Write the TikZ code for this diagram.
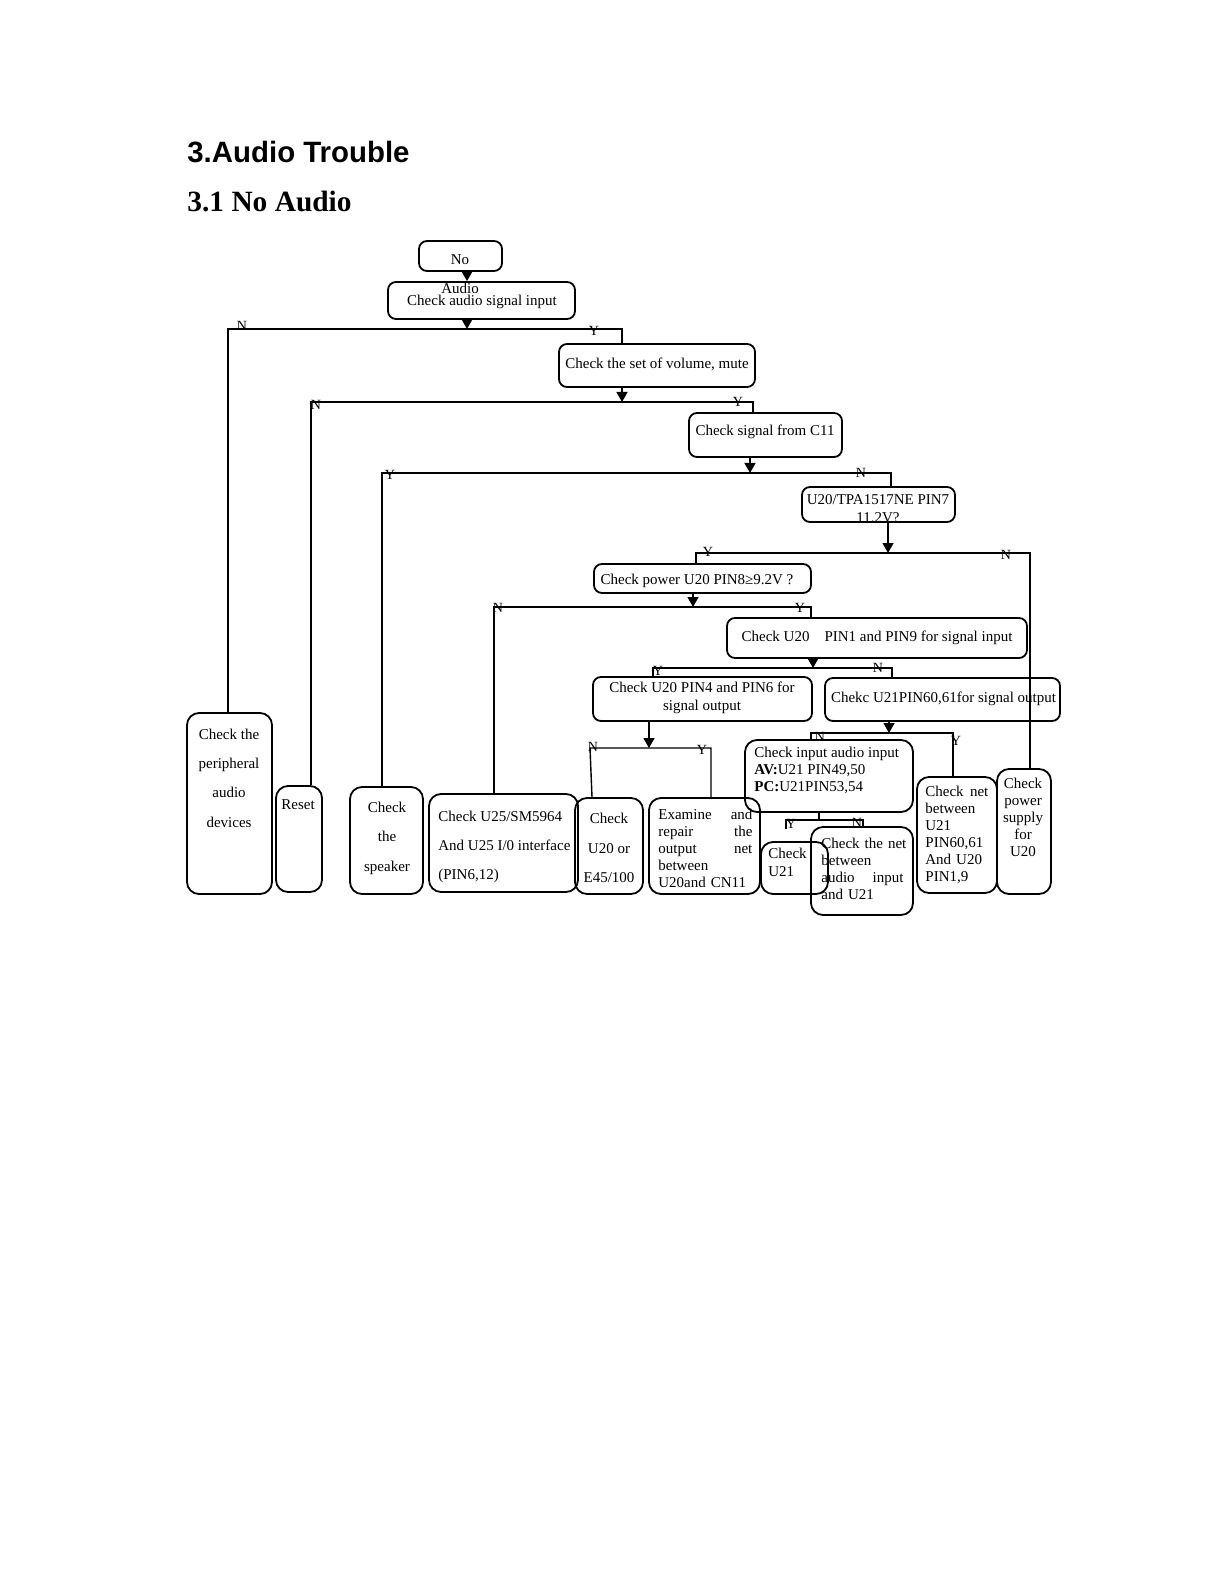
\documentclass[tikz,border=0pt]{standalone}
\usepackage{fontspec}
\setmainfont{Liberation Serif}
\newfontfamily\headsans{Liberation Sans}
\usetikzlibrary{arrows.meta,fit}
\begin{document}
\begin{tikzpicture}[x=0.5pt,y=-0.5pt,
  box/.style={draw,rounded corners=4pt,line width=0.9pt,inner sep=0pt},
  tallbox/.style={box,rounded corners=6pt},
  conn/.style={line width=0.7pt},
  arr/.style={conn,-{Triangle[width=5.5pt,length=5pt]}},
  txt/.style={inner sep=0pt,font=\fontsize{7.5}{8.5}\selectfont},
  dbl/.style={inner sep=0pt,font=\fontsize{7.5}{14.7}\selectfont,align=center},
  lbl/.style={inner sep=0pt,font=\fontsize{7}{8}\selectfont}]
\useasboundingbox (0,0) rectangle (1219,1582);

% headings
\node[anchor=base west,inner sep=0pt,font=\headsans\bfseries\fontsize{14.7}{17}\selectfont] (title) at (187,163) {3.Audio Trouble};
\node[anchor=base west,inner sep=0pt,font=\bfseries\fontsize{14.7}{17}\selectfont] (sub) at (187,212) {3.1 No Audio};

% boxes
\node[box,fit={(419,241)(502,271)}] (no) {};
\node[box,fit={(388,282)(575,319)}] (aud) {};
\node[box,fit={(559,344)(755,387)}] (vol) {};
\node[box,fit={(689,413)(842,457)}] (c11) {};
\node[box,fit={(802,487)(955,522)}] (tpa) {};
\node[box,fit={(594,564)(811,593)}] (pwr) {};
\node[box,fit={(727,618)(1027,658)}] (pin1) {};
\node[box,fit={(593,677)(812,721)}] (pin4) {};
\node[box,fit={(825,678)(1060,721)}] (chekc) {};
\node[tallbox,fit={(187,713)(272,894)}] (periph) {};
\node[tallbox,fit={(276,786)(322,892)}] (reset) {};
\node[tallbox,fit={(350,787)(423,894)}] (spk) {};
\node[tallbox,fit={(429,794)(578,892)}] (u25) {};
\node[tallbox,fit={(575,798)(643,894)}] (u20or) {};
\node[tallbox,fit={(649,798)(760,894)}] (exam) {};
\node[tallbox,fit={(745,740)(913,812)}] (inp) {};
\node[tallbox,fit={(761,842)(828,894)}] (cu21) {};
\node[tallbox,fit={(811,827)(913,915)}] (cnet) {};
\node[tallbox,fit={(917,777)(997,893)}] (netb) {};
\node[tallbox,fit={(997,769)(1051,894)}] (psup) {};

% texts
\node[dbl,font=\fontsize{7.5}{14.5}\selectfont] (t-no) at (460,274.5) {No\\Audio};
\node[txt] (t-aud) at (482,302) {Check audio signal input};
\node[txt] (t-vol) at (657,364) {Check the set of volume, mute};
\node[txt] (t-c11) at (765,432) {Check signal from C11};
\begin{scope}
\clip (tpa.south west) rectangle (tpa.north east);
\node[txt,align=center,font=\fontsize{7.5}{9}\selectfont] (t-tpa) at (878,509) {U20/TPA1517NE PIN7\\11.2V?};
\end{scope}
\node[txt] (t-pwr) at (697,581) {Check power U20 PIN8≥9.2V ?};
\node[txt] (t-pin1) at (877,638) {Check U20\hspace{7.5pt}PIN1 and PIN9 for signal input};
\node[txt,align=center,font=\fontsize{7.5}{9}\selectfont] (t-pin4) at (702,698) {Check U20 PIN4 and PIN6 for\\signal output};
\node[txt] (t-chekc) at (943.5,698.5) {Chekc U21PIN60,61for signal output};
\node[dbl,font=\fontsize{7.5}{14.65}\selectfont] (t-per) at (229,778) {Check the\\peripheral\\audio\\devices};
\node[txt] (t-reset) at (298,805) {Reset};
\node[dbl,font=\fontsize{7.5}{14.75}\selectfont] (t-spk) at (387,838) {Check\\the\\speaker};
\node[dbl,align=left,font=\fontsize{7.5}{14.5}\selectfont,anchor=west] (t-u25) at (438,846.5) {Check U25/SM5964\\And U25 I/0 interface\\(PIN6,12)};
\node[dbl,font=\fontsize{7.5}{14.75}\selectfont] (t-u20or) at (609,848) {Check\\U20 or\\E45/100};
\node[txt,anchor=west,align=left,text width=47pt] (t-exam) at (658,848) {Examine\hfill and\\repair\hfill the\\output\hfill net\\between\\U20and CN11};
\node[txt,anchor=west,align=left] (t-inp) at (754,770) {Check input audio input\\\textbf{AV:}U21 PIN49,50\\\textbf{PC:}U21PIN53,54};
\node[txt,anchor=west,align=left,font=\fontsize{7.5}{9}\selectfont] (t-cu21) at (768,862.5) {Check\\U21};
\node[txt,anchor=west,align=left,text width=41pt] (t-cnet) at (821,869) {\mbox{Check the net}\\between\\audio\hfill input\\and U21};
\node[txt,anchor=west,align=left,text width=31.5pt] (t-netb) at (925,835) {Check\hfill net\\between\\U21\\PIN60,61\\And U20\\PIN1,9};
\node[txt,align=center] (t-psup) at (1023,817.5) {Check\\power\\supply\\for\\U20};

% junction coordinates
\coordinate (j1) at (467,329);
\coordinate (j2) at (622,402);
\coordinate (j3) at (750,473);
\coordinate (j4) at (888,553);
\coordinate (j5) at (693,607);
\coordinate (j6) at (813,668);
\coordinate (j7) at (649,748);
\coordinate (j8) at (889,733);
\coordinate (j9) at (819,820);
% column coordinates
\coordinate (x228) at (228,0);
\coordinate (x311) at (311,0);
\coordinate (x382) at (382,0);
\coordinate (x494) at (494,0);
\coordinate (x590) at (590,0);
\coordinate (x592) at (592,0);
\coordinate (x653) at (653,0);
\coordinate (x696) at (696,0);
\coordinate (x711) at (711,0);
\coordinate (x753) at (753,0);
\coordinate (x811) at (811,0);
\coordinate (x891) at (891,0);
\coordinate (x892) at (892,0);
\coordinate (x953) at (953,0);
\coordinate (x1030) at (1030,0);
\coordinate (e9l) at (786,829);
\coordinate (x863) at (863,0);

% connectors
\draw[arr] (no.south -| j1) -- (aud.north -| j1);
\draw[arr] (aud.south -| j1) -- (j1);
\draw[conn] (periph.north -| x228) |- (j1) -| (vol.north -| j2);

\draw[arr] (vol.south -| j2) -- (j2);
\draw[conn] (reset.north -| x311) |- (j2) -| (c11.north -| x753);

\draw[arr] (c11.south -| j3) -- (j3);
\draw[conn] (spk.north -| x382) |- (j3) -| (tpa.north -| x891);

\draw[arr] (tpa.south -| j4) -- (j4);
\draw[conn] (pwr.north -| x696) |- (j4) -| (psup.north -| x1030);

\draw[arr] (pwr.south -| j5) -- (j5);
\draw[conn] (u25.north -| x494) |- (j5) -| (pin1.north -| x811);

\draw[arr] (pin1.south -| j6) -- (j6);
\draw[conn] (pin4.north -| x653) |- (j6) -| (chekc.north -| x892);

\draw[arr] (pin4.south -| j7) -- (j7);
\draw[conn] (u20or.north -| x592) -- (x590 |- j7) -- (j7) -| (exam.north -| x711);

\draw[arr] (chekc.south -| j8) -- (j8);
\draw[conn] (inp.north -| x811) |- (j8) -| (netb.north -| x953);

\draw[conn] (inp.south -| j9) -- (j9);
\draw[conn] (e9l) |- (j9) -| (cnet.north -| x863);

% Y/N labels
\node[lbl] (n1) at (242,326) {N};
\node[lbl] (y1) at (594,331) {Y};
\node[lbl] (n2) at (316,405) {N};
\node[lbl] (y2) at (738,402) {Y};
\node[lbl] (y3) at (390,475) {Y};
\node[lbl] (n3) at (861,473) {N};
\node[lbl] (y4) at (708,552) {Y};
\node[lbl] (n4) at (1006,555) {N};
\node[lbl] (n5) at (498,608) {N};
\node[lbl] (y5) at (800,608) {Y};
\node[lbl] (y6) at (658,671) {Y};
\node[lbl] (n6) at (878,668) {N};
\node[lbl] (n7) at (593,747) {N};
\node[lbl] (y7) at (702,750) {Y};
\node[lbl] (n8) at (820,737) {N};
\node[lbl] (y8) at (956,741) {Y};
\node[lbl] (y9) at (791,824) {Y};
\node[lbl] (n9) at (857,823) {N};
\end{tikzpicture}
\end{document}
